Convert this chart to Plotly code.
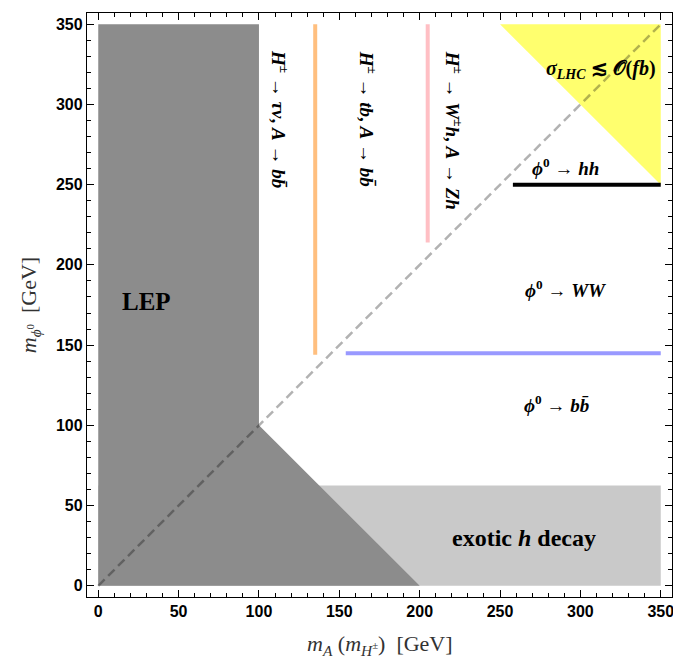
import plotly.graph_objects as go

# ---- data (GeV) ----
lep_x = [0, 0, 100, 100, 200, 0]
lep_y = [0, 350, 350, 100, 0, 0]
exotic_x = [0, 350, 350, 0, 0]
exotic_y = [0, 0, 62.5, 62.5, 0]
lhc_x = [250, 350, 350, 250]
lhc_y = [350, 350, 250, 350]
diag_x = [0, 350]
diag_y = [0, 350]
orange_x = [135, 135]
orange_y = [144, 350]
pink_x = [205, 205]
pink_y = [214, 350]
blue_x = [154, 350]
blue_y = [145, 145]
black_x = [258, 350]
black_y = [250, 250]

tick_vals = [0, 50, 100, 150, 200, 250, 300, 350]
tick_text = ["0", "50", "100", "150", "200", "250", "300", "350"]

SERIF = "Liberation Serif"

fig = go.Figure()
fig.add_trace(go.Scatter(x=exotic_x, y=exotic_y, fill="toself", mode="lines",
                         line=dict(width=0), fillcolor="rgb(201,201,201)", hoverinfo="skip"))
fig.add_trace(go.Scatter(x=lep_x, y=lep_y, fill="toself", mode="lines",
                         line=dict(width=0), fillcolor="rgb(140,140,140)", hoverinfo="skip"))
fig.add_trace(go.Scatter(x=lhc_x, y=lhc_y, fill="toself", mode="lines",
                         line=dict(width=0), fillcolor="rgb(255,255,110)", hoverinfo="skip"))
fig.add_trace(go.Scatter(x=diag_x, y=diag_y, mode="lines",
                         line=dict(color="rgba(0,0,0,0.3)", width=2.5, dash="9px,5px")))
fig.add_trace(go.Scatter(x=orange_x, y=orange_y, mode="lines",
                         line=dict(color="rgb(255,191,127)", width=4)))
fig.add_trace(go.Scatter(x=pink_x, y=pink_y, mode="lines",
                         line=dict(color="rgb(255,191,196)", width=4)))
fig.add_trace(go.Scatter(x=blue_x, y=blue_y, mode="lines",
                         line=dict(color="rgb(153,153,255)", width=4)))
fig.add_trace(go.Scatter(x=black_x, y=black_y, mode="lines",
                         line=dict(color="black", width=4)))

bb = "<i>b</i><i>b\u0304</i>"
AR = " \u2192 "
ann = [
    dict(x=30, y=177, text="<b>LEP</b>", font=dict(size=25)),
    dict(x=113, y=291, text="<b><i>H</i><sup>±</sup>" + AR + "<i>τν</i>, <i>A</i>" + AR + bb + "</b>",
         textangle=90, font=dict(size=19)),
    dict(x=168, y=291, text="<b><i>H</i><sup>±</sup>" + AR + "<i>tb</i>, <i>A</i>" + AR + bb + "</b>",
         textangle=90, font=dict(size=19)),
    dict(x=221, y=284, text="<b><i>H</i><sup>±</sup>" + AR + "<i>W</i><sup>±</sup><i>h</i>, <i>A</i>" + AR + "<i>Zh</i></b>",
         textangle=90, font=dict(size=19)),
    dict(x=313, y=322, text="<b><i>σ</i><sub><i>LHC</i></sub> ≲ 𝒪(<i>fb</i>)</b>", font=dict(size=20)),
    dict(x=291, y=261, text="<b><i>ϕ</i><sup>0</sup>" + AR + "<i>hh</i></b>", font=dict(size=19)),
    dict(x=291, y=185, text="<b><i>ϕ</i><sup>0</sup>" + AR + "<i>WW</i></b>", font=dict(size=19)),
    dict(x=285, y=113, text="<b><i>ϕ</i><sup>0</sup>" + AR + bb + "</b>", font=dict(size=19)),
    dict(x=265, y=30, text="<b>exotic <i>h</i> decay</b>", font=dict(size=24)),
]
for a in ann:
    a.setdefault("showarrow", False)
    a["font"] = dict(family=SERIF, color="black", **a["font"])
    fig.add_annotation(**a)

# axis titles as paper-anchored annotations
fig.add_annotation(x=0.5, y=-0.083, xref="paper", yref="paper", showarrow=False,
                   text="<i>m</i><sub><i>A</i></sub> (<i>m</i><sub><i>H</i><sup>±</sup></sub>)  [GeV]",
                   font=dict(family=SERIF, size=22, color="rgb(50,50,50)"), yanchor="middle")
fig.add_annotation(x=-0.097, y=0.5, xref="paper", yref="paper", showarrow=False, textangle=-90,
                   text="<i>m</i><sub><i>ϕ</i><sup>0</sup></sub>  [GeV]",
                   font=dict(family=SERIF, size=22, color="rgb(50,50,50)"), xanchor="center")

axis_common = dict(
    range=[-7, 357], tickmode="array", tickvals=tick_vals, ticktext=tick_text,
    ticks="inside", ticklen=7, tickwidth=1, tickcolor="black",
    showline=True, linecolor="black", linewidth=1.3, mirror="allticks",
    showgrid=False, zeroline=False, automargin=False, ticklabeloverflow="allow",
    minor=dict(ticks="inside", ticklen=4, tickwidth=1, tickcolor="black", dtick=10, showgrid=False),
    tickfont=dict(family="Liberation Sans", size=16, color="black", weight="bold"),
)
fig.update_xaxes(**axis_common)
fig.update_yaxes(**axis_common)

fig.update_layout(
    width=673, height=660, showlegend=False,
    margin=dict(l=87, r=1, t=13, b=63),
    plot_bgcolor="white", paper_bgcolor="white",
)
fig.write_html("out.html", config={"displayModeBar": False},
               post_script="document.body.style.margin='0px';document.body.style.overflow='hidden';")
